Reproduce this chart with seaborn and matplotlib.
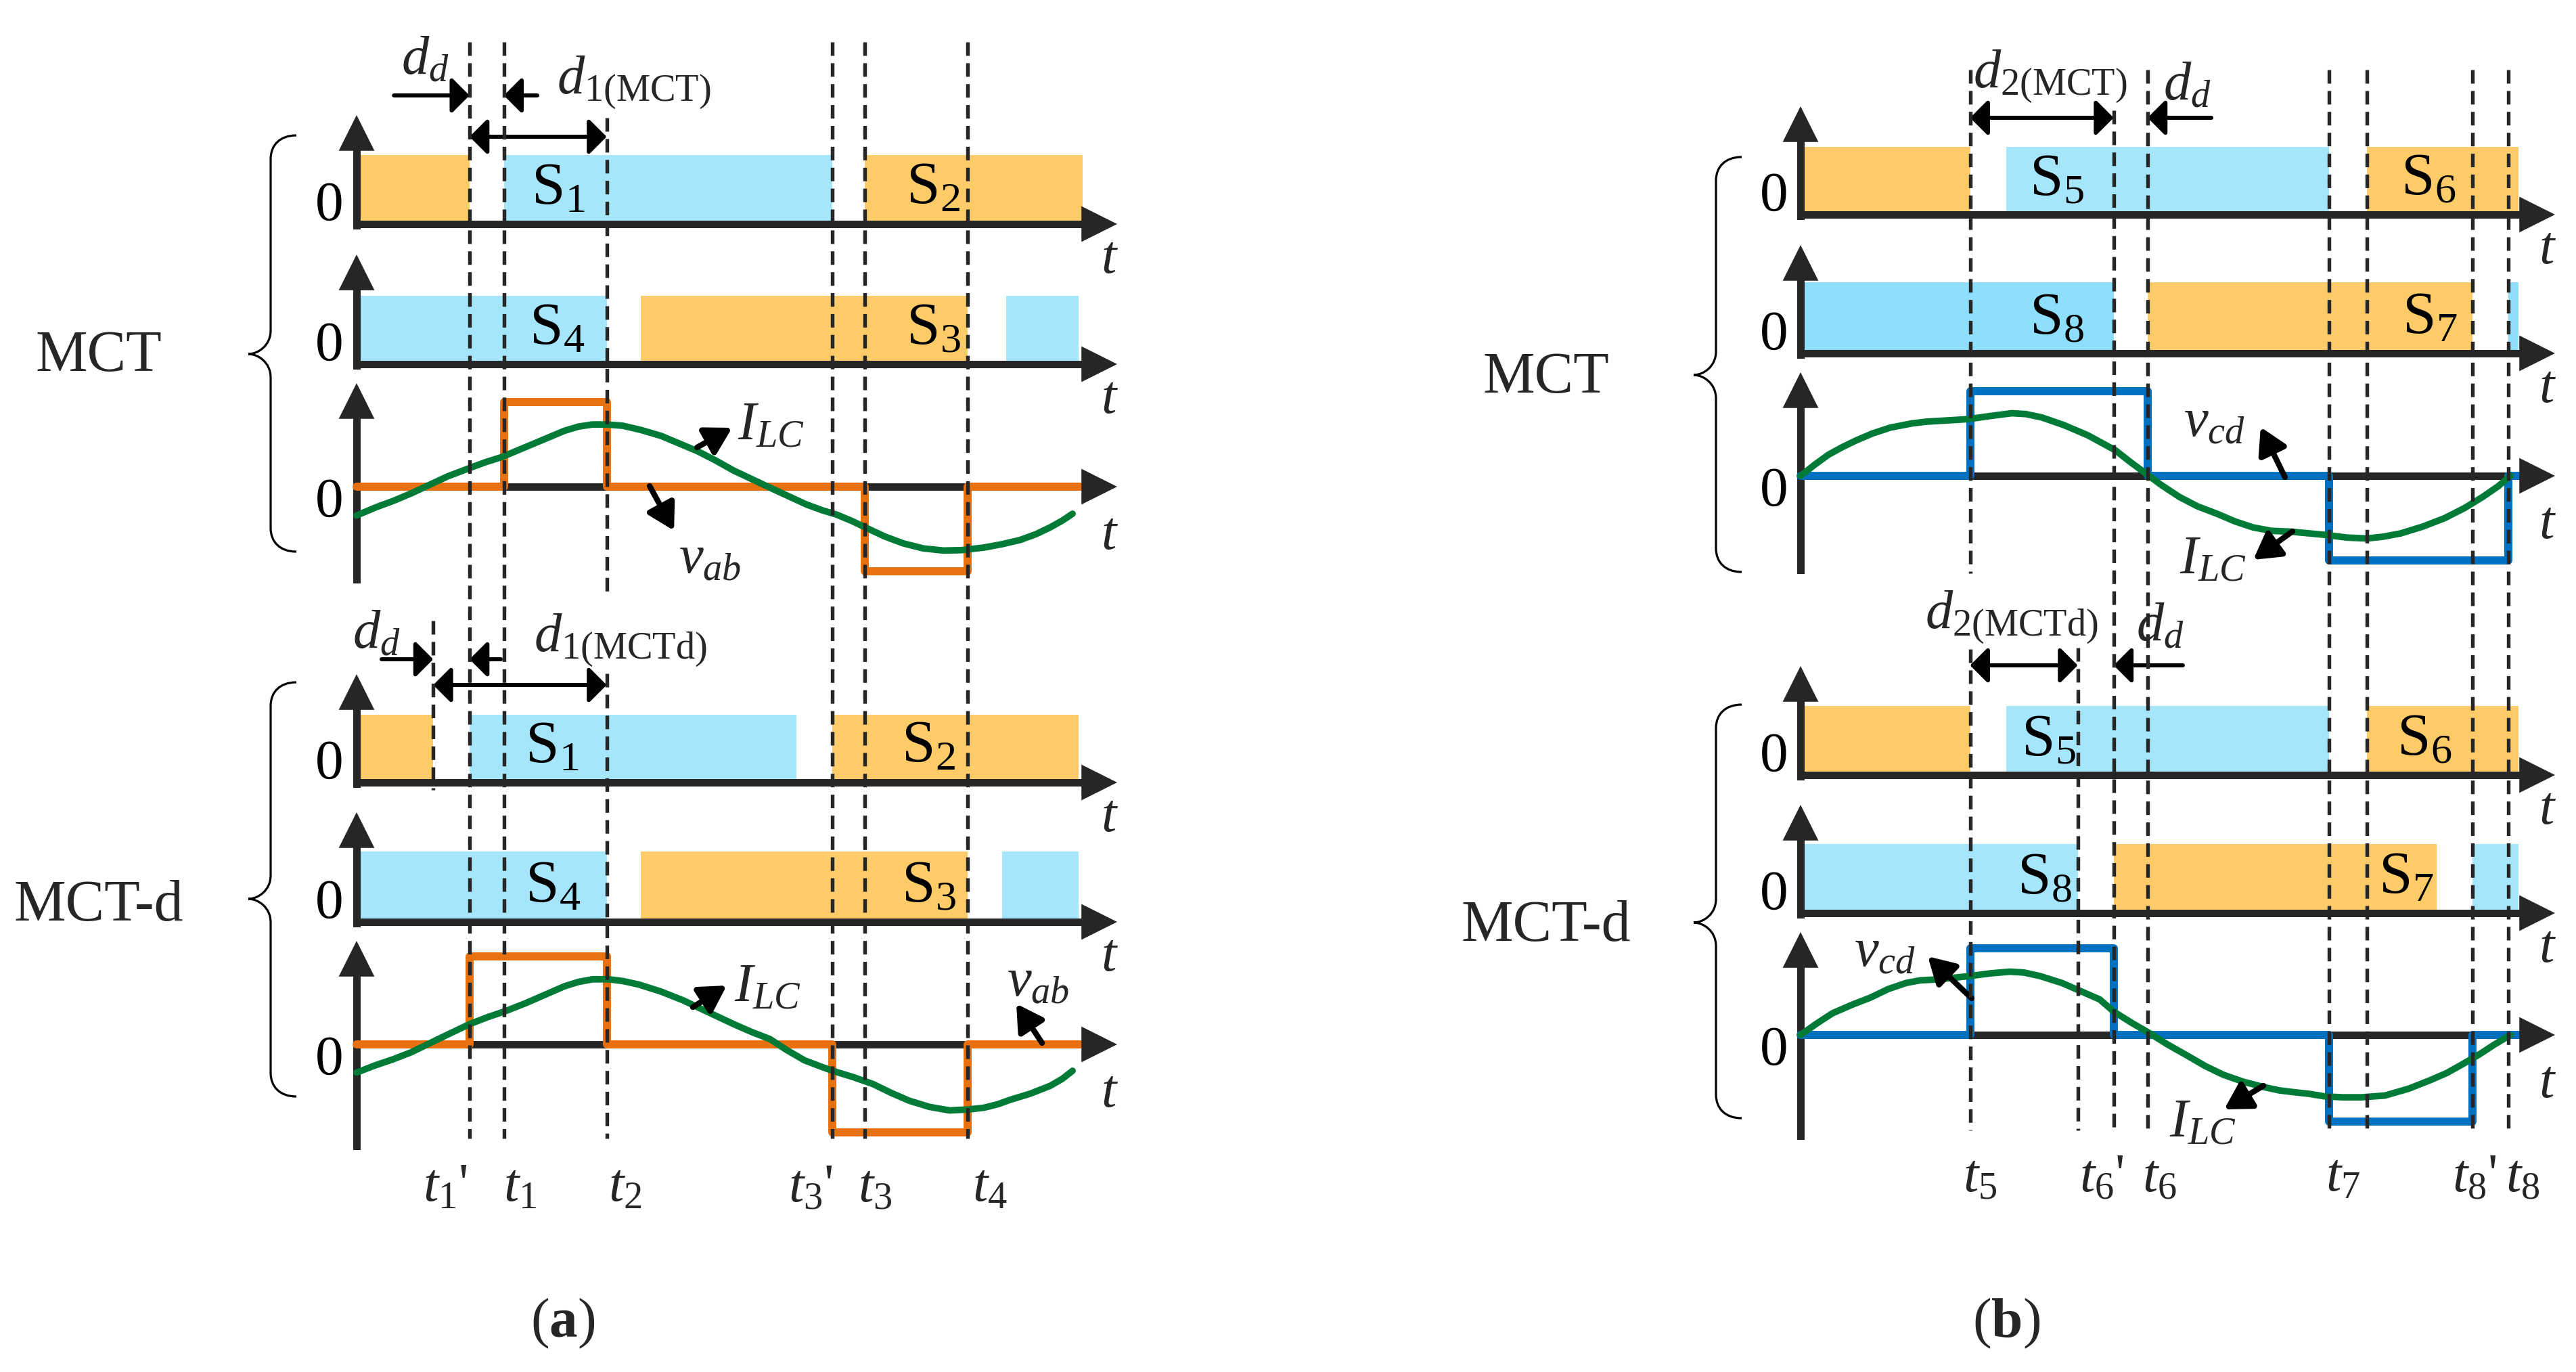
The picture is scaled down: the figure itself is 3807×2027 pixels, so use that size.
import matplotlib
matplotlib.use('Agg')
import matplotlib.pyplot as plt
from matplotlib.path import Path
from matplotlib.patches import PathPatch
import numpy as np
import seaborn as sns

W, H = 3807, 2027

# ---------------- data (time in degrees of one switching period) ----------------
# panel (a): switching instants t1', t1, t2, t3', t3, t4
A_TICKS = [56, 73, 124, 236, 252, 303]
A_TICK_LABELS = ["$t_1$'", '$t_1$', '$t_2$', "$t_3$'", '$t_3$', '$t_4$']
A_TICK_LABEL_X = [44, 81, 133, 225, 257, 314]

# gate signals, panel (a)
S1_MCT_ON, S1_MCT_OFF, S1_MCT_CLR = [0, 73, 252], [56, 236, 360], ['o', 'b', 'o']
S4_MCT_ON, S4_MCT_OFF, S4_MCT_CLR = [0, 141, 322], [124, 303, 358], ['b', 'o', 'b']
S1_MCTD_ON, S1_MCTD_OFF, S1_MCTD_CLR = [0, 56, 236], [38, 218, 358], ['o', 'b', 'o']
S4_MCTD_ON, S4_MCTD_OFF, S4_MCTD_CLR = [0, 141, 320], [124, 303, 358], ['b', 'o', 'b']

# v_ab steps, panel (a)
VAB_MCT_T, VAB_MCT_V = [0, 73, 124, 252, 303, 360], [0, 1, 0, -1, 0, 0]
VAB_MCTD_T, VAB_MCTD_V = [0, 56, 124, 236, 303, 360], [0, 1, 0, -1, 0, 0]

# I_LC, panel (a)
ILC_A_MCT_T = [0, 10, 18, 27, 36, 45, 56, 64, 72, 82, 93, 103, 110, 117, 124, 132, 141, 151, 160, 169,
               178, 187, 195, 203, 213, 223, 231, 238, 246, 253, 262, 271, 281, 291, 300, 311, 320, 329,
               337, 344, 350, 355]
ILC_A_MCT_V = [-0.34, -0.24, -0.17, -0.08, 0.02, 0.12, 0.22, 0.29, 0.35, 0.45, 0.56, 0.66, 0.71, 0.735,
               0.735, 0.72, 0.67, 0.60, 0.51, 0.42, 0.31, 0.19, 0.10, 0.01, -0.10, -0.21, -0.28, -0.33,
               -0.41, -0.49, -0.59, -0.67, -0.73, -0.755, -0.75, -0.72, -0.68, -0.63, -0.56, -0.48,
               -0.40, -0.32]
ILC_A_MCTD_T = [0, 9, 18, 27, 36, 45, 56, 65, 74, 84, 93, 103, 110, 117, 125, 132, 140, 151, 162, 174,
                187, 196, 205, 213, 222, 230, 236, 246, 256, 265, 274, 284, 294, 303, 311, 318, 324, 334,
                344, 350, 355]
ILC_A_MCTD_V = [-0.32, -0.24, -0.17, -0.09, 0.01, 0.11, 0.23, 0.31, 0.38, 0.47, 0.56, 0.66, 0.71, 0.74,
                0.74, 0.72, 0.68, 0.60, 0.50, 0.37, 0.23, 0.14, 0.06, -0.06, -0.18, -0.25, -0.30, -0.37,
                -0.45, -0.55, -0.64, -0.71, -0.75, -0.74, -0.72, -0.68, -0.63, -0.56, -0.47, -0.39, -0.30]

# panel (b): t5, t6', t6, t7, t8', t8
B_TICK_LABELS = ['$t_5$', "$t_6$'", '$t_6$', '$t_7$', "$t_8$'", '$t_8$']
B_TICK_LABEL_X = [90, 151, 180, 272, 338, 362]

S5_MCT_ON, S5_MCT_OFF, S5_MCT_CLR = [0, 103, 284], [85, 265, 360], ['o', 'b', 'o']
S8_MCT_ON, S8_MCT_OFF, S8_MCT_CLR = [0, 174, 355], [157, 337, 360], ['B', 'o', 'B']
S5_MCTD_ON, S5_MCTD_OFF, S5_MCTD_CLR = [0, 103, 284], [85, 265, 360], ['o', 'b', 'o']
S8_MCTD_ON, S8_MCTD_OFF, S8_MCTD_CLR = [0, 157, 337], [139, 319, 360], ['b', 'o', 'b']

VCD_MCT_T, VCD_MCT_V = [0, 85, 174, 265, 355, 360], [0, 1, 0, -1, 0, 0]
VCD_MCTD_T, VCD_MCTD_V = [0, 85, 157, 265, 337, 360], [0, 1, 0, -1, 0, 0]

ILC_B_MCT_T = [0, 7, 14, 21, 28, 36, 45, 56, 63, 70, 84, 96, 106, 113, 121, 132, 144, 151, 158, 165, 173,
               181, 190, 199, 209, 218, 227, 236, 246, 255, 264, 274, 284, 292, 301, 312, 323, 333, 342,
               350, 356]
ILC_B_MCT_V = [0, 0.13, 0.25, 0.34, 0.42, 0.50, 0.57, 0.62, 0.64, 0.65, 0.67, 0.71, 0.74, 0.73, 0.69,
               0.60, 0.48, 0.39, 0.30, 0.17, 0.03, -0.11, -0.25, -0.36, -0.45, -0.54, -0.61, -0.65, -0.66,
               -0.68, -0.70, -0.73, -0.74, -0.72, -0.68, -0.60, -0.50, -0.38, -0.25, -0.12, 0.0]
ILC_B_MCTD_T = [0, 8, 16, 26, 35, 44, 53, 60, 68, 77, 85, 95, 105, 112, 120, 131, 142, 150, 157, 166,
                175, 184, 194, 203, 212, 222, 232, 240, 247, 255, 263, 272, 281, 293, 305, 316, 324, 331,
                340, 348, 356]
ILC_B_MCTD_V = [0, 0.13, 0.25, 0.35, 0.43, 0.53, 0.60, 0.63, 0.64, 0.66, 0.68, 0.71, 0.73, 0.72, 0.68,
                0.60, 0.49, 0.41, 0.27, 0.14, 0.02, -0.11, -0.24, -0.36, -0.46, -0.54, -0.60, -0.64, -0.66,
                -0.68, -0.71, -0.72, -0.72, -0.70, -0.62, -0.52, -0.44, -0.35, -0.23, -0.11, 0.0]

# ---------------- style ----------------
sns.set_theme(style='white')
plt.rcParams['font.family'] = ['Liberation Serif', 'DejaVu Serif']
plt.rcParams['mathtext.fontset'] = 'custom'
plt.rcParams['mathtext.rm'] = 'Liberation Serif'
plt.rcParams['mathtext.it'] = 'Liberation Serif:italic'
plt.rcParams['mathtext.bf'] = 'Liberation Serif:bold'

ORANGE, BLUE, BLUE2 = '#FECB69', '#A6E6FD', '#8EDFFC'
FILL = {'o': ORANGE, 'b': BLUE, 'B': BLUE2}
AXC = '#262626'
GREEN = '#007A37'
FS = 58

fig = plt.figure(figsize=(W / 100, H / 100), dpi=100)
fig.patch.set_facecolor('white')

canvas = fig.add_axes([0, 0, 1, 1])
canvas.set_xlim(0, W)
canvas.set_ylim(H, 0)
canvas.axis('off')

PA = dict(origin=527, ppu=1073 / 360, tip=1651)
PB = dict(origin=2661, ppu=1061 / 360, tip=3776)


def add_ax(P, y0, y1):
    x0, x1 = P['origin'] - 60, P['tip'] + 4
    ax = fig.add_axes([x0 / W, 1 - y1 / H, (x1 - x0) / W, (y1 - y0) / H])
    ax.set_xlim(-60 / P['ppu'], (x1 - P['origin']) / P['ppu'])
    ax.axis('off')
    ax.patch.set_alpha(0)
    return ax


def head(ax, xy, frm, size=38):
    ax.annotate('', xy=xy, xytext=frm,
                arrowprops=dict(arrowstyle='-|>,head_length=1.0,head_width=0.5', mutation_scale=size,
                                lw=0, color=AXC, shrinkA=0, shrinkB=0), zorder=5)


def frame(ax, P, tipy, ybot, hp, zero_dy, t_dy):
    ppu = P['ppu']
    tipx = (P['tip'] - P['origin']) / ppu
    ax.plot([0, tipx - 30 / ppu], [0, 0], color=AXC, lw=7.9, solid_capstyle='projecting', zorder=2)
    head(ax, (tipx, 0), (tipx - 10 / ppu, 0))
    ax.plot([0, 0], [ybot, tipy - 30 / hp], color=AXC, lw=7.9, solid_capstyle='projecting', zorder=2)
    head(ax, (0, tipy), (0, tipy - 10 / hp))
    ax.text(-13.4, zero_dy / hp, '0', ha='center', va='baseline', fontsize=60, color='black')
    ax.text(tipx - 11 / ppu, -t_dy / hp, '$t$', ha='center', va='baseline', fontsize=FS, color=AXC)


def switch_row(P, y_tip, y_top, y_ax, on, off, clr, label, label_x):
    hp = y_ax - y_top
    ax = add_ax(P, y_tip - 4, y_ax + 12)
    ax.set_ylim(-12 / hp, (y_ax - y_tip + 4) / hp)
    widths = np.array(off) - np.array(on)
    ax.bar(on, 1.0, width=widths, align='edge', color=[FILL[c] for c in clr], linewidth=0, zorder=1)
    frame(ax, P, (y_ax - y_tip) / hp, -2 / hp, hp, 6, 72)
    ax.text(label_x, 30 / hp, label, ha='left', va='baseline', fontsize=64, color='black', zorder=3)


def wave_row(P, y_tip, y_hi, y_zero, y_bot, st, sv, scol, ct, cv):
    hp = y_zero - y_hi
    ax = add_ax(P, y_tip - 4, y_bot + 4)
    ax.set_ylim(-(y_bot + 4 - y_zero) / hp, (y_zero - y_tip + 4) / hp)
    frame(ax, P, (y_zero - y_tip) / hp, -(y_bot - y_zero) / hp, hp, -44, 92)
    sns.lineplot(x=st, y=sv, ax=ax, color=scol, lw=8.6, drawstyle='steps-post', estimator=None,
                 sort=False, legend=False, solid_capstyle='round', solid_joinstyle='round', zorder=3)
    sns.lineplot(x=ct, y=cv, ax=ax, color=GREEN, lw=7.0, estimator=None, sort=False, legend=False,
                 solid_capstyle='round', solid_joinstyle='round', zorder=4)


# ---------------- panel (a) ----------------
switch_row(PA, 170, 229, 331, S1_MCT_ON, S1_MCT_OFF, S1_MCT_CLR, r'$\mathrm{S}_1$', 86.6)
switch_row(PA, 376, 437, 538, S4_MCT_ON, S4_MCT_OFF, S4_MCT_CLR, r'$\mathrm{S}_4$', 85.6)
wave_row(PA, 566, 594, 719, 858, VAB_MCT_T, VAB_MCT_V, '#E8710F', ILC_A_MCT_T, ILC_A_MCT_V)
switch_row(PA, 996, 1056, 1156, S1_MCTD_ON, S1_MCTD_OFF, S1_MCTD_CLR, r'$\mathrm{S}_1$', 83.5)
switch_row(PA, 1200, 1258, 1362, S4_MCTD_ON, S4_MCTD_OFF, S4_MCTD_CLR, r'$\mathrm{S}_4$', 83.5)
wave_row(PA, 1390, 1413, 1543, 1695, VAB_MCTD_T, VAB_MCTD_V, '#E8710F', ILC_A_MCTD_T, ILC_A_MCTD_V)

# second-row labels S2 / S3
for y_tip, y_top, y_ax, lab, lx in [(170, 229, 331, r'$\mathrm{S}_2$', 272.4), (376, 437, 538, r'$\mathrm{S}_3$', 272.4),
                                    (996, 1056, 1156, r'$\mathrm{S}_2$', 270), (1200, 1258, 1362, r'$\mathrm{S}_3$', 270)]:
    hp = y_ax - y_top
    axl = add_ax(PA, y_tip - 4, y_ax + 12)
    axl.set_ylim(-12 / hp, (y_ax - y_tip + 4) / hp)
    axl.text(lx, 30 / hp, lab, ha='left', va='baseline', fontsize=64, color='black')

# ---------------- panel (b) ----------------
switch_row(PB, 157, 217, 317, S5_MCT_ON, S5_MCT_OFF, S5_MCT_CLR, r'$\mathrm{S}_5$', 114.7)
switch_row(PB, 362, 417, 522, S8_MCT_ON, S8_MCT_OFF, S8_MCT_CLR, r'$\mathrm{S}_8$', 114.7)
wave_row(PB, 550, 578, 703, 844, VCD_MCT_T, VCD_MCT_V, '#0070C0', ILC_B_MCT_T, ILC_B_MCT_V)
switch_row(PB, 984, 1043, 1145, S5_MCTD_ON, S5_MCTD_OFF, S5_MCTD_CLR, r'$\mathrm{S}_5$', 110.6)
switch_row(PB, 1189, 1247, 1349, S8_MCTD_ON, S8_MCTD_OFF, S8_MCTD_CLR, r'$\mathrm{S}_8$', 108.6)
wave_row(PB, 1377, 1401, 1529, 1680, VCD_MCTD_T, VCD_MCTD_V, '#0070C0', ILC_B_MCTD_T, ILC_B_MCTD_V)

for y_tip, y_top, y_ax, lab, lx in [(157, 217, 317, r'$\mathrm{S}_6$', 301), (362, 417, 522, r'$\mathrm{S}_7$', 301.6),
                                    (984, 1043, 1145, r'$\mathrm{S}_6$', 299), (1189, 1247, 1349, r'$\mathrm{S}_7$', 289.8)]:
    hp = y_ax - y_top
    axl = add_ax(PB, y_tip - 4, y_ax + 12)
    axl.set_ylim(-12 / hp, (y_ax - y_tip + 4) / hp)
    axl.text(lx, 30 / hp, lab, ha='left', va='baseline', fontsize=64, color='black')


# ---------------- overlays: dashed guides, dimensions, pointers ----------------
def overlay(P):
    ax = add_ax(P, 0, H)
    ax.set_ylim(H, 0)
    return ax


def dim(ax, x_from, x_to, y, both=False):
    st = '<|-|>' if both else '-|>'
    ax.annotate('', xy=(x_to, y), xytext=(x_from, y),
                arrowprops=dict(arrowstyle=f'{st},head_length=1.0,head_width=1.0', mutation_scale=16,
                                lw=4.3, color='black', shrinkA=0, shrinkB=0))


def pointer(ax, start, tip):
    ax.annotate('', xy=tip, xytext=start,
                arrowprops=dict(arrowstyle='-|>,head_length=1.3,head_width=0.75', mutation_scale=18,
                                lw=6, color='black', shrinkA=0, shrinkB=0))


DASH = (0, (3.7, 2.0))

oa = overlay(PA)
for t, y0, y1 in [(A_TICKS[0], 62, 1682), (A_TICKS[1], 62, 1682), (A_TICKS[2], 174, 880), (A_TICKS[2], 995, 1682),
                  (A_TICKS[3], 62, 1682), (A_TICKS[4], 62, 1682), (A_TICKS[5], 62, 1682), (S1_MCTD_OFF[0], 917, 1167)]:
    oa.plot([t, t], [y0, y1], color=AXC, lw=3.9, linestyle=DASH, zorder=6)
for lab, x in zip(A_TICK_LABELS, A_TICK_LABEL_X):
    oa.text(x, 1775, lab, ha='center', va='baseline', fontsize=FS, color=AXC)
dim(oa, 18.5, A_TICKS[0], 141)
dim(oa, 89.6, A_TICKS[1], 141)
dim(oa, A_TICKS[0], A_TICKS[2], 202, both=True)
oa.text(22, 109, '$d_d$', ha='left', va='baseline', fontsize=FS)
oa.text(99.3, 138, r'$d_{1\mathrm{(MCT)}}$', ha='left', va='baseline', fontsize=FS)
dim(oa, 12.4, S1_MCTD_OFF[0], 974)
dim(oa, 71.5, A_TICKS[0], 974)
dim(oa, S1_MCTD_OFF[0], A_TICKS[2], 1012, both=True)
oa.text(-2, 957, '$d_d$', ha='left', va='baseline', fontsize=FS)
oa.text(87.9, 962, r'$d_{1\mathrm{(MCTd)}}$', ha='left', va='baseline', fontsize=FS)
pointer(oa, (168.8, 661), (186.2, 632))
oa.text(188.9, 630, '$I_{LC}$', ha='left', va='center', fontsize=FS)
pointer(oa, (145.3, 718), (157.4, 784))
oa.text(159.7, 827, '$v_{ab}$', ha='left', va='center', fontsize=FS)
pointer(oa, (166.7, 1488), (183.5, 1456))
oa.text(187.2, 1460, '$I_{LC}$', ha='left', va='center', fontsize=FS)
pointer(oa, (339.9, 1541), (327.1, 1483))
oa.text(322.4, 1452, '$v_{ab}$', ha='left', va='center', fontsize=FS)

ob = overlay(PB)
for t, y0, y1 in [(85, 103, 847), (85, 959, 1670), (139, 957, 1670), (157, 163, 1670), (174, 103, 1670),
                  (265, 103, 1670), (284, 103, 1670), (337, 103, 1670), (355, 103, 1670)]:
    ob.plot([t, t], [y0, y1], color=AXC, lw=3.9, linestyle=DASH, zorder=6)
for lab, x in zip(B_TICK_LABELS, B_TICK_LABEL_X):
    ob.text(x, 1760, lab, ha='center', va='baseline', fontsize=FS, color=AXC)
dim(ob, 85, 157, 174, both=True)
dim(ob, 206, 174, 174)
ob.text(86.5, 129, r'$d_{2\mathrm{(MCT)}}$', ha='left', va='baseline', fontsize=FS)
ob.text(182, 147, '$d_d$', ha='left', va='baseline', fontsize=FS)
dim(ob, 85, 139, 983, both=True)
dim(ob, 191.7, 157, 983)
ob.text(62.4, 928, r'$d_{2\mathrm{(MCTd)}}$', ha='left', va='baseline', fontsize=FS)
ob.text(168.3, 946, '$d_d$', ha='left', va='baseline', fontsize=FS)
pointer(ob, (242.9, 705), (230.7, 631))
ob.text(192.0, 625, '$v_{cd}$', ha='left', va='center', fontsize=FS)
pointer(ob, (246.7, 785), (227.0, 827))
ob.text(190.0, 828, '$I_{LC}$', ha='left', va='center', fontsize=FS)
pointer(ob, (85.8, 1475), (63.8, 1413))
ob.text(26.8, 1408, '$v_{cd}$', ha='left', va='center', fontsize=FS)
pointer(ob, (232.1, 1604), (212.4, 1639))
ob.text(184.9, 1660, '$I_{LC}$', ha='left', va='center', fontsize=FS)


# ---------------- braces, mode names, captions ----------------
def brace(x_tip, x_end, y0, y1, ym):
    xv = x_tip + 33
    r = 35
    verts = [(x_end, y0), (xv + 14, y0), (xv, y0 + 14), (xv, y0 + r),
             (xv, ym - r), (xv, ym - 12), (x_tip + 14, ym), (x_tip, ym),
             (x_tip + 14, ym), (xv, ym + 12), (xv, ym + r),
             (xv, y1 - r), (xv, y1 - 14), (xv + 14, y1), (x_end, y1)]
    codes = [Path.MOVETO, Path.CURVE4, Path.CURVE4, Path.CURVE4, Path.LINETO,
             Path.CURVE4, Path.CURVE4, Path.CURVE4, Path.CURVE4, Path.CURVE4, Path.CURVE4,
             Path.LINETO, Path.CURVE4, Path.CURVE4, Path.CURVE4]
    canvas.add_patch(PathPatch(Path(verts, codes), fill=False, lw=2.3, edgecolor='black'))


brace(367, 438, 200, 815, 523)
brace(367, 438, 1008, 1620, 1328)
brace(2503, 2574, 232, 845, 554)
brace(2503, 2574, 1041, 1652, 1363)

canvas.text(146, 548, 'MCT', ha='center', va='baseline', fontsize=62)
canvas.text(146, 1360, 'MCT-d', ha='center', va='baseline', fontsize=62)
canvas.text(2285, 580, 'MCT', ha='center', va='baseline', fontsize=62)
canvas.text(2285, 1390, 'MCT-d', ha='center', va='baseline', fontsize=62)
canvas.text(832, 1975, r'($\mathbf{a}$)', ha='center', va='baseline', fontsize=60)
canvas.text(2965, 1975, r'($\mathbf{b}$)', ha='center', va='baseline', fontsize=60)

fig.savefig('out.png', dpi=100, facecolor='white')
